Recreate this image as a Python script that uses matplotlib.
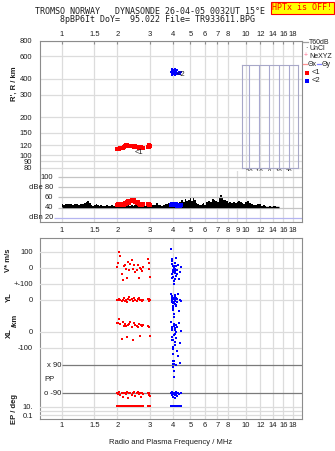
#!/usr/bin/env python3
import matplotlib.pyplot as plt
from matplotlib.ticker import NullLocator
from matplotlib.transforms import blended_transform_factory

W, H = 335, 451
FMIN, FMAX = 0.76, 20.2

TOP_FREQ_TICKS = [1, 1.5, 2, 3, 4, 5, 6, 7, 8, 10, 12, 14, 16, 18]
AMP_FREQ_TICKS = [1, 1.5, 2, 3, 4, 5, 6, 7, 8, 9, 10, 12, 14, 16, 18]
RANGE_TICKS = [80, 90, 100, 120, 150, 200, 300, 400, 600, 800]
AMP_TICKS = [100, 80, 60, 40, 20]
AMP_TICK_LABELS = ["100", "dBe 80", "60", "40", "dBn 20"]
TILT_TICKS = [-20, -10, 0, 10, 20]

# receiver amplitude profile across the sweep
amp_freq = [1.00, 1.03, 1.06, 1.09, 1.12, 1.15, 1.18, 1.21, 1.24, 1.27, 1.30, 1.33,
            1.36, 1.39, 1.42, 1.45, 1.48, 1.51, 1.54, 1.57, 1.60, 1.64, 1.68, 1.72,
            1.76, 1.80, 1.84, 1.88, 1.92, 1.96, 2.00, 2.05, 2.10, 2.15, 2.20, 2.25,
            2.30, 2.35, 2.40, 2.45, 2.50, 2.55, 2.60, 2.65, 2.70, 2.75, 2.80, 2.85,
            2.90, 2.95, 3.00, 3.07, 3.14, 3.21, 3.28, 3.35, 3.42, 3.50, 3.58, 3.66,
            3.74, 3.82, 3.90, 3.98, 4.06, 4.14, 4.22, 4.30, 4.40, 4.50, 4.60, 4.70,
            4.80, 4.90, 5.00, 5.10, 5.20, 5.30, 5.40, 5.50, 5.60, 5.70, 5.80, 5.90,
            6.00, 6.15, 6.30, 6.45, 6.60, 6.75, 6.90, 7.05, 7.20, 7.30, 7.45, 7.60,
            7.75, 7.90, 8.05, 8.20, 8.40, 8.60, 8.80, 9.00, 9.20, 9.40, 9.60, 9.80,
            10.0, 10.25, 10.5, 10.75, 11.0, 11.3, 11.6, 11.9, 12.2, 12.5, 12.8, 13.1,
            13.5, 13.9, 14.3, 14.7, 15.1]
amp_db = [48, 46, 48, 47, 48, 46, 48, 47, 46, 48, 47, 49,
          51, 53, 49, 45, 44, 45, 47, 45, 44, 45, 44, 44,
          45, 44, 44, 45, 44, 44, 45, 44, 45, 44, 45, 44,
          45, 44, 45, 44, 45, 46, 45, 44, 45, 47, 46, 44,
          44, 44, 45, 44, 45, 46, 49, 46, 45, 44, 46, 47,
          48, 49, 47, 46, 48, 49, 50, 48, 51, 56, 52, 57,
          53, 55, 58, 54, 60, 56, 50, 47, 46, 45, 48, 49,
          46, 51, 54, 52, 57, 55, 54, 51, 61, 65, 58, 55,
          56, 54, 50, 52, 50, 51, 49, 51, 53, 52, 50, 48,
          51, 53, 49, 47, 46, 45, 47, 48, 44, 46, 43, 42,
          43, 42, 43, 42, 42]
AMP_FLOOR = 41

# echo group <1
red_freq = [1.99, 2.02, 2.05, 2.08, 2.11, 2.14, 2.17, 2.20, 2.23, 2.26, 2.29, 2.32,
            2.35, 2.39, 2.43, 2.47, 2.51, 2.55, 2.59, 2.62, 2.65, 2.68, 2.72, 2.76,
            2.93, 2.96, 2.99, 3.02]
red_range = [112, 113, 112, 114, 114, 115, 116, 118, 120, 121, 119, 119,
             118, 119, 118, 117, 118, 117, 116, 115, 117, 116, 115, 114,
             117, 120, 116, 119]
red_amp = [45, 47, 46, 48, 45, 47, 46, 49, 48, 51, 53, 50,
           54, 56, 53, 55, 52, 50, 51, 47, 46, 48, 45, 47,
           48, 46, 47, 45]
red_vstar = [5, 30, 100, 78, -35, -72, 12, 18, -5, -65, 40, -10,
             22, 52, -4, 16, -25, -15, 20, -60, 0, -8, -20, 4,
             58, 32, -4, -58]
red_yl = [2, -3, 5, 0, -8, 3, 15, -5, 0, -10, 8, 20,
          -2, 4, -6, 10, 0, -4, 6, 14, -3, 0, -8, 2,
          5, -5, 8, 0]
red_xl = [58, 55, 82, 48, -45, 65, 40, 52, 36, -32, 46, 50,
          62, 30, -52, 56, 45, 40, 34, 50, -22, 42, 36, 46,
          40, 34, 30, -28]
red_pp = [-85, -95, -80, -100, -90, -110, -85, -90, -95, -82, -120, -90,
          -86, -100, -90, -84, -105, -90, -80, -95, -85, -115, -90, -95,
          -85, -90, -100, -108]
red_ep = [14, 12, 15, 13, 14, 16, 12, 13, 15, 14, 12, 13,
          16, 14, 13, 12, 15, 14, 13, 12, 14, 15, 13, 12,
          14, 13, 15, 14]

# echo group <2
blue_freq = [3.94, 3.95, 3.96, 3.97, 3.98, 3.99, 4.00, 4.01, 4.02, 4.03, 4.04, 4.05,
             4.06, 4.07, 4.08, 4.09, 4.10, 4.11, 4.12, 4.13, 4.14, 4.15, 4.17, 4.19,
             4.21, 4.24, 4.28, 4.33, 4.38, 4.42]
blue_range = [450, 470, 440, 480, 430, 460, 455, 445, 470, 435, 460, 450,
              440, 465, 455, 470, 445, 430, 475, 460, 450, 440, 465, 455,
              445, 470, 440, 450, 435, 455]
blue_amp = [46, 47, 45, 48, 46, 47, 45, 48, 46, 47, 48, 46,
            45, 47, 46, 48, 47, 45, 46, 47, 48, 46, 45, 47,
            46, 44, 45, 46, 44, 45]
blue_vstar = [120, 55, 45, 25, -40, -60, 12, -23, -12, -15, -58, 0,
              -80, -100, 10, 5, -5, -30, 30, -67, -20, -50, 60, 15,
              -10, -35, 20, -67, -25, 8]
blue_yl = [40, 27, 14, 0, -6, -10, -20, -38, -48, -55, -60, -88,
           -104, 5, 10, -15, 20, -25, 30, -5, 0, -30, 15, -40,
           8, -12, 35, -70, 3, -8]
blue_xl = [64, 33, 20, 14, -30, -50, -50, -92, -100, -105, -137, -180,
           -200, 50, 40, -20, 10, -60, 25, -80, -10, 0, 45, -40,
           30, -120, -150, 55, -70, 5]
blue_pp = [-90, -85, -95, -80, -100, -90, -110, -85, 95, 80, 115, 50,
           15, -90, -95, -88, -92, -100, -85, -120, -90, -95, -80, 90,
           -105, -90, -85, -95, 100, -90]
blue_ep = [13, 14, 12, 15, 13, 12, 14, 13, 15, 12, 14, 13,
           12, 15, 14, 13, 12, 14, 13, 15, 12, 14, 13, 12,
           15, 14, 13, 12, 14, 13]

GRID = "#dcdcdc"
SPINE = "#8c8c8c"
INK = "#1e1e1e"
RED = "#ff0000"
BLUE = "#0000ff"
FS = 5.5


def frac(x0, y0, x1, y1):
    # pixel box (top-left origin) -> figure fraction rect
    return [x0 / W, 1 - y1 / H, (x1 - x0) / W, (y1 - y0) / H]


def px(x, y):
    return x / W, 1 - y / H


def freq_axis(ax):
    ax.set_xscale("log")
    ax.set_xlim(FMIN, FMAX)
    ax.xaxis.set_minor_locator(NullLocator())
    ax.yaxis.set_minor_locator(NullLocator())
    for s in ax.spines.values():
        s.set_color(SPINE)
        s.set_linewidth(0.8)


plt.rcParams["font.family"] = ["Liberation Sans", "DejaVu Sans"]
fig = plt.figure(figsize=(W / 100, H / 100), dpi=100)

# --- header ---
fig.text(*px(150, 12), "TROMSO NORWAY   DYNASONDE 26-04-05 0032UT 15°E",
         family="DejaVu Sans Mono", fontsize=6, ha="center", va="center", color=INK)
fig.text(*px(157, 20), "8pBP6It DoY=  95.022 File= TR933611.BPG",
         family="DejaVu Sans Mono", fontsize=6, ha="center", va="center", color=INK)
fig.text(*px(302.5, 8), "HPTx is OFF!", family="DejaVu Sans Mono", fontsize=6,
         ha="center", va="center", color=RED,
         bbox=dict(facecolor="#ffff00", edgecolor=RED, linewidth=0.8, pad=1.2))

# --- virtual range panel ---
ax_r = fig.add_axes(frac(40, 40.6, 302, 171.2))
freq_axis(ax_r)
ax_r.set_yscale("log")
ax_r.set_ylim(75, 800)
ax_r.yaxis.set_minor_locator(NullLocator())
ax_r.xaxis.tick_top()
ax_r.set_xticks(TOP_FREQ_TICKS, [f"{t:g}" for t in TOP_FREQ_TICKS])
ax_r.set_yticks(RANGE_TICKS, [str(t) for t in RANGE_TICKS])
ax_r.tick_params(axis="x", length=2, direction="in", pad=2, labelsize=FS,
                 color=SPINE, labelcolor=INK)
ax_r.tick_params(axis="y", length=0, pad=5.5, labelsize=FS, labelcolor=INK)
ax_r.grid(True, color=GRID, lw=0.9)
ax_r.set_axisbelow(True)
ax_r.spines["bottom"].set_visible(False)
ax_r.plot(red_freq, red_range, "s", color=RED, ms=2.3, mew=0)
ax_r.plot(blue_freq, blue_range, "s", color=BLUE, ms=2.0, mew=0)
ax_r.text(2.49, 106, "<1", fontsize=FS, va="center", ha="left", color=INK)
ax_r.text(4.2, 432, "<2", fontsize=FS, va="center", ha="left", color=INK)
fig.text(*px(14, 84), "R', R / km", rotation=90, fontsize=FS, fontweight="bold",
         ha="center", va="center", color=INK)

# tilt inset
ax_t = fig.add_axes(frac(242, 65, 298, 168))
ax_t.set_xlim(-26.5, 28.5)
ax_t.set_ylim(0, 1)
ax_t.patch.set_visible(False)
for s in ax_t.spines.values():
    s.set_color("#a8a8c8")
    s.set_linewidth(0.8)
ax_t.set_yticks([])
ax_t.set_xticks(TILT_TICKS, [str(t) for t in TILT_TICKS])
ax_t.tick_params(axis="x", length=0, pad=1, labelsize=4.2, labelcolor=INK)
ax_t.vlines(TILT_TICKS, 0, 1, color="#a8a8d0", lw=0.8)
ax_t.set_xlabel("Tilt / deg", fontsize=4.2, labelpad=0, color=INK)

# --- amplitude panel ---
ax_a = fig.add_axes(frac(40, 171.2, 302, 222))
freq_axis(ax_a)
ax_a.set_ylim(11.5, 112)
ax_a.set_yticks([])
ax_a.set_xticks(AMP_FREQ_TICKS, [f"{t:g}" for t in AMP_FREQ_TICKS])
ax_a.tick_params(axis="x", length=0, pad=3.5, labelsize=FS, labelcolor=INK)
ax_a.grid(True, axis="x", color=GRID, lw=0.9)
ax_a.set_axisbelow(True)
ax_a.spines["top"].set_visible(False)
ax_a.hlines(AMP_TICKS[:-1], 0.95, FMAX, color="#c4c4c4", lw=0.9)
ax_a.hlines(AMP_TICKS[-1], 0.9, FMAX, color="#b4b4f0", lw=0.9)
lab_tr = blended_transform_factory(ax_a.transAxes, ax_a.transData)
for val, lab in zip(AMP_TICKS, AMP_TICK_LABELS):
    ax_a.text(13 / 262, val, lab, transform=lab_tr, fontsize=FS, ha="right",
              va="center", color=INK)
ax_a.fill_between(amp_freq, AMP_FLOOR, amp_db, step="mid", color="black", lw=0)
ax_a.hlines(AMP_FLOOR, amp_freq[0], amp_freq[-1], color="black", lw=1.0)
ax_a.plot(red_freq, red_amp, "s", color=RED, ms=2.2, mew=0)
ax_a.plot(blue_freq, blue_amp, "s", color=BLUE, ms=2.2, mew=0)

# --- legend column ---
lx = 303
fig.lines.append(plt.Line2D([px(lx, 0)[0], px(lx + 5, 0)[0]], [px(0, 42)[1]] * 2,
                            transform=fig.transFigure, color="#a0a0a0", lw=0.9))
fig.text(*px(lx + 6, 42), "T60dB", fontsize=5, va="center", color=INK)
fig.text(*px(lx + 2, 49), "·", fontsize=5, va="center", color=INK)
fig.text(*px(lx + 6, 49), "UnCl", fontsize=5, va="center", color=INK)
fig.text(*px(lx + 1, 56), "+", fontsize=5, va="center", color="#ff7090")
fig.text(*px(lx + 6, 56), "NeXYZ", fontsize=5, va="center", color=INK)
fig.lines.append(plt.Line2D([px(lx, 0)[0], px(lx + 4, 0)[0]], [px(0, 64)[1]] * 2,
                            transform=fig.transFigure, color="#ff9090", lw=0.9))
fig.text(*px(lx + 4.5, 64), "Θx", fontsize=5, va="center", color=INK)
fig.lines.append(plt.Line2D([px(lx + 14, 0)[0], px(lx + 18, 0)[0]], [px(0, 64)[1]] * 2,
                            transform=fig.transFigure, color="#8080ff", lw=0.9))
fig.text(*px(lx + 18.5, 64), "Θy", fontsize=5, va="center", color=INK)
fig.lines.append(plt.Line2D([px(lx + 4, 0)[0]], [px(0, 73)[1]], transform=fig.transFigure,
                            marker="s", ms=2.4, mew=0, color=RED, ls="none"))
fig.text(*px(lx + 9, 73), "<1", fontsize=FS, va="center", color=INK)
fig.lines.append(plt.Line2D([px(lx + 4, 0)[0]], [px(0, 81)[1]], transform=fig.transFigure,
                            marker="s", ms=2.4, mew=0, color=BLUE, ls="none"))
fig.text(*px(lx + 9, 81), "<2", fontsize=FS, va="center", color=INK)

# --- echo parameter panel ---
LOW = frac(40, 238, 302, 419)
ax_low = fig.add_axes(LOW)
freq_axis(ax_low)
ax_low.set_ylim(0, 1)
ax_low.set_yticks([])
ax_low.set_xticks(TOP_FREQ_TICKS, [f"{t:g}" for t in TOP_FREQ_TICKS])
ax_low.tick_params(axis="x", length=0, pad=2.5, labelsize=FS, labelcolor=INK)
ax_low.grid(True, axis="x", color=GRID, lw=0.9)
ax_low.set_axisbelow(True)
ax_low.set_xlabel("Radio and Plasma Frequency / MHz", fontsize=FS, labelpad=7, color=INK)


def overlay(lo, hi, rect=LOW, log=False):
    ax = fig.add_axes(rect)
    freq_axis(ax)
    if log:
        ax.set_yscale("log")
        ax.yaxis.set_minor_locator(NullLocator())
    ax.set_ylim(lo, hi)
    ax.patch.set_visible(False)
    for s in ax.spines.values():
        s.set_visible(False)
    ax.set_xticks([])
    ax.tick_params(axis="y", length=0, pad=5, labelsize=FS, labelcolor=INK)
    return ax


ax_v = overlay(-943.75, 187.5)
ax_v.set_yticks([100, 0, -100], ["100", "0", "+-100"])
ax_yl = overlay(-743.75, 387.5)
ax_yl.set_yticks([0], ["0"])
ax_xl = overlay(-543.75, 587.5)
ax_xl.set_yticks([0, -100], ["0", "-100"])
ax_pp = overlay(-253, 898)
ax_pp.set_yticks([])
ax_ep = overlay(0.0109, 1247, rect=frac(40, 398, 302, 419), log=True)
ax_ep.set_yticks([10, 0.1], ["10.", "0.1"])

for val in (100, 0, -100):
    ax_v.axhline(val, color=GRID, lw=0.9, zorder=0)
ax_yl.axhline(0, color=GRID, lw=0.9, zorder=0)
ax_xl.axhline(0, color=GRID, lw=0.9, zorder=0)
ax_xl.axhline(-100, color=GRID, lw=0.9, zorder=0)
for val in (10, 1, 0.1):
    ax_ep.axhline(val, color=GRID, lw=0.9, zorder=0)

ax_pp.hlines([90, -90], 1.0, FMAX, color="#7a7a7a", lw=0.9)
pp_tr = blended_transform_factory(ax_pp.transAxes, ax_pp.transData)
ax_pp.text(21 / 262, 90, "x 90", transform=pp_tr, fontsize=FS, ha="right",
           va="center", color=INK)
ax_pp.text(21 / 262, -90, "o -90", transform=pp_tr, fontsize=FS, ha="right",
           va="center", color=INK)
ax_pp.text(4 / 262, 0, "PP", transform=pp_tr, fontsize=FS, ha="left",
           va="center", color=INK)

for ax, rv, bv in ((ax_v, red_vstar, blue_vstar), (ax_yl, red_yl, blue_yl),
                   (ax_xl, red_xl, blue_xl), (ax_pp, red_pp, blue_pp),
                   (ax_ep, red_ep, blue_ep)):
    ax.plot(red_freq, rv, "s", color=RED, ms=1.8, mew=0)
    ax.plot(blue_freq, bv, "s", color=BLUE, ms=1.8, mew=0)

fig.text(*px(9, 260), "V* m/s", rotation=90, fontsize=FS, fontweight="bold",
         ha="center", va="center", color=INK)
fig.text(*px(9, 297), "YL", rotation=90, fontsize=FS, fontweight="bold",
         ha="center", va="center", color=INK)
fig.text(*px(15, 320), "/km", rotation=90, fontsize=FS, fontweight="bold",
         ha="center", va="center", color=INK)
fig.text(*px(9, 333), "XL", rotation=90, fontsize=FS, fontweight="bold",
         ha="center", va="center", color=INK)
fig.text(*px(14, 409), "EP / deg", rotation=90, fontsize=FS, fontweight="bold",
         ha="center", va="center", color=INK)

fig.savefig("out.png", dpi=100)
